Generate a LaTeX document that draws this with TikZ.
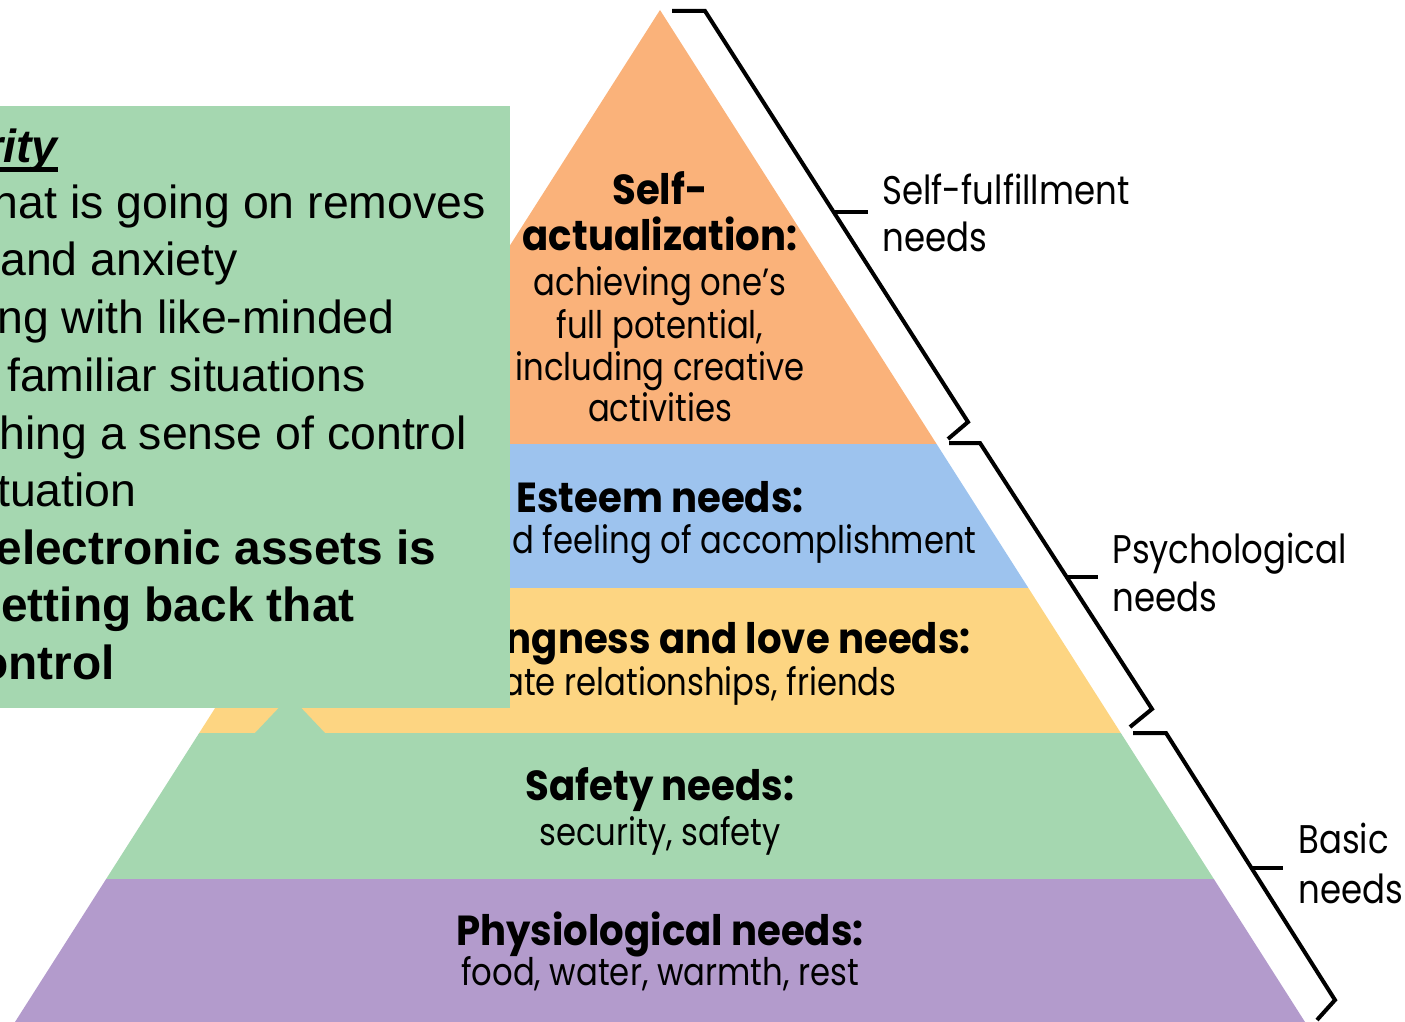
\documentclass[tikz,border=0pt]{standalone}
\usepackage{fontspec}
\newfontfamily\futura{Poppins}[FakeStretch=0.85]
\newfontfamily\futurabf{Poppins}[FakeStretch=0.92]
\newfontfamily\arial{Liberation Sans}
\definecolor{selfcol}{HTML}{FAB27A}
\definecolor{esteemcol}{HTML}{9DC3EE}
\definecolor{lovecol}{HTML}{FDD582}
\definecolor{safecol}{HTML}{A5D7B0}
\definecolor{physcol}{HTML}{B39BCC}
\tikzset{
  lvl/.style={font=\futura\fontsize{19}{22}\selectfont, anchor=base, inner sep=0pt},
  lvlhead/.style={lvl, font=\futurabf\bfseries\fontsize{21}{24}\selectfont},
  grp/.style={font=\futura\fontsize{20}{23}\selectfont, anchor=base west, inner sep=0pt},
  note/.style={font=\arial\fontsize{23.2}{26}\selectfont, anchor=base east, inner sep=0pt},
  notebf/.style={note, font=\arial\bfseries\fontsize{23.9}{26}\selectfont},
  brace/.style={line width=2pt, line join=miter}
}

\begin{document}
\begin{tikzpicture}[x=0.5pt,y=-0.5pt]
   \useasboundingbox (0,0) rectangle (1405,1022);

   % pyramid
   \begin{scope}
      \clip (660,10) -- (15,1022) -- (1305,1022) -- cycle;
      \fill[selfcol] (0,0) rectangle (1405,444);
      \fill[esteemcol] (0,444) rectangle (1405,588);
      \fill[lovecol] (0,588) rectangle (1405,733);
      \fill[safecol] (0,733) rectangle (1405,879);
      \fill[physcol] (0,879) rectangle (1405,1022);
   \end{scope}

   \node[lvlhead] (sa1) at (660,205) {Self-};
   \node[lvlhead] (sa2) at (660,250) {actualization:};
   \node[lvl] (sa3) at (660,295) {achieving one’s};
   \node[lvl] (sa4) at (660,338) {full potential,};
   \node[lvl] (sa5) at (660,380) {including creative};
   \node[lvl] (sa6) at (660,422) {activities};
   \node[lvlhead] (es1) at (660,512) {Esteem needs:};
   \node[lvl, anchor=base east] (es2) at (977,553) {nd feeling of accomplishment};
   \node[lvlhead, anchor=base east] (bl1) at (971,653) {ngness and love needs:};
   \node[lvl, anchor=base east] (bl2) at (897,695) {ate relationships, friends};
   \node[lvlhead] (sf1) at (660,800) {Safety needs:};
   \node[lvl] (sf2) at (660,845) {security, safety};
   \node[lvlhead] (ph1) at (660,945) {Physiological needs:};
   \node[lvl] (ph2) at (660,985) {food, water, warmth, rest};

   % callout
   \fill[safecol] (0,106) rectangle (510,708);
   \fill[safecol] (290,696) -- (255,733) -- (325,733) -- cycle;
   \node[note] (n1) at (58,163) {\bfseries\itshape rity};
   \draw[line width=2.4pt] ([yshift=-3.3pt]n1.base west) -- ([yshift=-3.3pt]n1.base east);
   \node[note] (n2) at (486,219) {hat is going on removes};
   \node[note] (n3) at (238,276) {and anxiety};
   \node[note] (n4) at (395,334) {ng with like-minded};
   \node[note] (n5) at (366,391) {familiar situations};
   \node[note] (n6) at (467,449) {hing a sense of control};
   \node[note] (n7) at (137,506) {tuation};
   \node[notebf] (n8) at (437,564) {electronic assets is};
   \node[notebf] (n9) at (355,621) {etting back that};
   \node[notebf] (n10) at (115,679) {ontrol};

   % brackets
   \draw[brace] (672,11) -- (705,11) -- (968,422) -- (948,439);
   \draw[brace] (834,212) -- (868,212);
   \draw[brace] (949,443) -- (980,443) -- (1152,709) -- (1130,727);
   \draw[brace] (1067,577) -- (1098,577);
   \draw[brace] (1133,733) -- (1166,733) -- (1335,1000) -- (1317,1020);
   \draw[brace] (1252,868) -- (1283,868);

   \node[grp] (lf1) at (882,205) {Self-fulfillment};
   \node[grp] (lf2) at (882,252) {needs};
   \node[grp] (lp1) at (1112,563) {Psychological};
   \node[grp] (lp2) at (1112,611) {needs};
   \node[grp] (lb1) at (1298,853) {Basic};
   \node[grp] (lb2) at (1298,903) {needs};
\end{tikzpicture}
\end{document}
